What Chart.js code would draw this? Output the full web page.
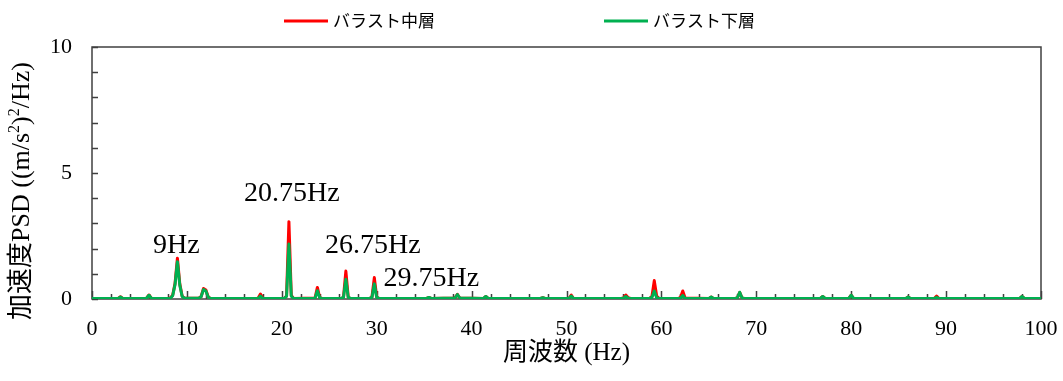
<!DOCTYPE html>
<html>
<head>
<meta charset="utf-8">
<script src="https://cdn.jsdelivr.net/npm/chart.js@4/dist/chart.umd.min.js"></script>
<style>
  html, body { margin: 0; padding: 0; background: #fff; }
  #wrap { width: 1063px; height: 381px; }
</style>
</head>
<body>
<div id="wrap"><canvas id="psd" width="1063" height="381"></canvas></div>
<script>
// Frequency bins (Hz) and PSD values ((m/s^2)^2/Hz) for the two ballast layers.
// One row per spectral peak, same layout in all three arrays.
const freqHz = [
  0, 2.75, 3, 3.25,
  5.75, 6, 6.25,
  8, 8.25, 8.5, 8.75, 9, 9.25, 9.5, 9.75,
  11.25, 11.5, 11.75, 12, 12.25, 12.5,
  17.5, 17.75, 18,
  20.25, 20.5, 20.75, 21, 21.25,
  23.5, 23.75, 24, 24.25,
  26.25, 26.5, 26.75, 27, 27.25,
  29.25, 29.5, 29.75, 30, 30.25,
  35.25, 35.5, 35.75,
  38.25, 38.5, 38.75,
  41.25, 41.5, 41.75,
  47.25, 47.5, 47.75,
  50.25, 50.5, 50.75,
  55.75, 56, 56.25, 56.5, 56.75,
  58.75, 59, 59.25, 59.5, 59.75,
  61.75, 62, 62.25, 62.5,
  65, 65.25, 65.5,
  67.75, 68, 68.25, 68.5, 68.75,
  76.75, 77, 77.25,
  79.75, 80, 80.25,
  85.75, 86, 86.25,
  88.75, 89, 89.25,
  97.75, 98, 98.25, 100
];
const midLayerPSD = [
  0.02, 0.02, 0.09, 0.02,
  0.03, 0.16, 0.03,
  0.02, 0.04, 0.15, 0.62, 1.62, 0.60, 0.12, 0.03,
  0.03, 0.10, 0.42, 0.36, 0.08, 0.02,
  0.03, 0.20, 0.03,
  0.02, 0.12, 3.07, 0.14, 0.02,
  0.04, 0.46, 0.05, 0.02,
  0.02, 0.07, 1.11, 0.07, 0.02,
  0.02, 0.08, 0.85, 0.08, 0.02,
  0.02, 0.06, 0.02,
  0.04, 0.19, 0.04,
  0.02, 0.10, 0.02,
  0.02, 0.05, 0.02,
  0.02, 0.16, 0.02,
  0.02, 0.04, 0.16, 0.05, 0.02,
  0.02, 0.10, 0.73, 0.12, 0.03,
  0.02, 0.05, 0.32, 0.04,
  0.02, 0.08, 0.02,
  0.02, 0.04, 0.26, 0.04, 0.02,
  0.02, 0.10, 0.02,
  0.02, 0.15, 0.02,
  0.02, 0.08, 0.02,
  0.02, 0.12, 0.02,
  0.02, 0.10, 0.02, 0.02
];
const lowLayerPSD = [
  0.02, 0.02, 0.08, 0.02,
  0.03, 0.15, 0.03,
  0.02, 0.03, 0.13, 0.57, 1.48, 0.55, 0.10, 0.03,
  0.03, 0.09, 0.38, 0.32, 0.07, 0.02,
  0.02, 0.12, 0.02,
  0.02, 0.10, 2.18, 0.11, 0.02,
  0.03, 0.33, 0.04, 0.02,
  0.02, 0.06, 0.78, 0.06, 0.02,
  0.02, 0.06, 0.60, 0.06, 0.02,
  0.02, 0.06, 0.02,
  0.04, 0.18, 0.04,
  0.02, 0.10, 0.02,
  0.02, 0.05, 0.02,
  0.02, 0.12, 0.02,
  0.02, 0.03, 0.10, 0.03, 0.02,
  0.02, 0.06, 0.32, 0.05, 0.02,
  0.02, 0.03, 0.14, 0.02,
  0.02, 0.08, 0.02,
  0.02, 0.04, 0.27, 0.04, 0.02,
  0.02, 0.10, 0.02,
  0.02, 0.15, 0.02,
  0.02, 0.08, 0.02,
  0.02, 0.07, 0.02,
  0.02, 0.10, 0.02, 0.02
];
const seriesNames = ['バラスト中層', 'バラスト下層'];
const xTickLabels = [0, 10, 20, 30, 40, 50, 60, 70, 80, 90, 100];
const yTickLabels = [0, 5, 10];
const peakFreqs = [9, 20.75, 26.75, 29.75];
const peakTexts = ['9Hz', '20.75Hz', '26.75Hz', '29.75Hz'];

// Label placement (pixel offsets from the peak top) for each peak note
const peakOffsets = [[-1, -5], [3, -21], [27, -18], [57, 8]];

const SERIF = '"Liberation Serif", "Noto Sans CJK JP", serif';
const CJK = '"Noto Sans CJK JP", sans-serif';
const toPoints = ys => freqHz.map((f, i) => ({ x: f, y: ys[i] }));

const framePlugin = {
  id: 'frameAndNotes',
  beforeDatasetsDraw(chart) {
    const { ctx, chartArea: a, scales: { x, y } } = chart;
    ctx.save();
    ctx.strokeStyle = '#404040';
    ctx.lineWidth = 1.5;
    ctx.strokeRect(a.left, a.top, a.right - a.left, a.bottom - a.top);
    ctx.beginPath();
    x.ticks.forEach(t => {
      const px = Math.round(x.getPixelForValue(t.value)) + 0.5;
      const len = xTickLabels.includes(t.value) ? 8 : 5;
      ctx.moveTo(px, a.bottom);
      ctx.lineTo(px, a.bottom - len);
    });
    y.ticks.forEach(t => {
      const py = Math.round(y.getPixelForValue(t.value)) + 0.5;
      ctx.moveTo(a.left, py);
      ctx.lineTo(a.left + 6, py);
    });
    ctx.stroke();
    ctx.restore();
  },
  afterDraw(chart) {
    const { ctx, scales: { x, y } } = chart;
    ctx.save();
    // peak frequency notes
    ctx.fillStyle = '#000';
    ctx.font = '28px ' + SERIF;
    ctx.textAlign = 'center';
    ctx.textBaseline = 'alphabetic';
    peakFreqs.forEach((f, i) => {
      const v = midLayerPSD[freqHz.indexOf(f)];
      const px = x.getPixelForValue(f) + peakOffsets[i][0];
      const py = y.getPixelForValue(v) + peakOffsets[i][1];
      ctx.fillText(peakTexts[i], px, py);
    });

    // legend
    const legendX = [284, 604];
    chart.data.datasets.forEach((ds, i) => {
      const lx = legendX[i];
      ctx.strokeStyle = ds.borderColor;
      ctx.lineWidth = 3;
      ctx.beginPath();
      ctx.moveTo(lx, 21);
      ctx.lineTo(lx + 44, 21);
      ctx.stroke();
      ctx.fillStyle = '#000';
      ctx.font = '17px ' + CJK;
      ctx.textAlign = 'left';
      ctx.textBaseline = 'middle';
      ctx.fillText(ds.label, lx + 49, 21);
    });

    // y-axis title with superscripts
    const parts = [
      { t: '加速度PSD ((m/s', sup: false },
      { t: '2', sup: true },
      { t: ')', sup: false },
      { t: '2', sup: true },
      { t: '/Hz)', sup: false }
    ];
    const mainFont = '26px ' + SERIF;
    const supFont = '16px ' + SERIF;
    let total = 0;
    parts.forEach(p => { ctx.font = p.sup ? supFont : mainFont; p.w = ctx.measureText(p.t).width; total += p.w; });
    ctx.translate(22, 191);
    ctx.rotate(-Math.PI / 2);
    ctx.textAlign = 'left';
    ctx.textBaseline = 'middle';
    let cx = -total / 2;
    parts.forEach(p => {
      ctx.font = p.sup ? supFont : mainFont;
      ctx.fillText(p.t, cx, p.sup ? -7 : 0);
      cx += p.w;
    });
    ctx.restore();
  }
};

new Chart(document.getElementById('psd').getContext('2d'), {
  type: 'line',
  data: {
    datasets: [
      { label: seriesNames[0], data: toPoints(midLayerPSD), borderColor: '#FF0000', backgroundColor: '#FF0000',
        borderWidth: 3, borderJoinStyle: 'round', borderCapStyle: 'round',
        pointRadius: 0, tension: 0, order: 1 },
      { label: seriesNames[1], data: toPoints(lowLayerPSD), borderColor: '#00B050', backgroundColor: '#00B050',
        borderWidth: 3, borderJoinStyle: 'round', borderCapStyle: 'round',
        pointRadius: 0, tension: 0, order: 0 }
    ]
  },
  options: {
    responsive: false,
    animation: false,
    devicePixelRatio: 1,
    layout: { padding: { top: 47, right: 22, left: 0, bottom: 0 } },
    plugins: { legend: { display: false }, tooltip: { enabled: false } },
    scales: {
      x: {
        type: 'linear', min: 0, max: 100,
        afterFit(s) { s.height = 82; s.paddingLeft = 0; s.paddingRight = 0; },
        ticks: {
          stepSize: 2, autoSkip: false, maxRotation: 0, padding: 17,
          color: '#000', font: { family: SERIF, size: 22 },
          callback: v => xTickLabels.includes(v) ? String(v) : ''
        },
        grid: { display: false, drawTicks: false },
        border: { display: false },
        title: { display: true, text: '周波数 (Hz)', color: '#000',
                 font: { family: SERIF, size: 25 }, padding: { top: 0, bottom: 13 } }
      },
      y: {
        min: 0, max: 10,
        afterFit(s) { s.width = 92; s.paddingTop = 0; s.paddingBottom = 0; },
        ticks: {
          stepSize: 1, autoSkip: false, padding: 20,
          color: '#000', font: { family: SERIF, size: 22 },
          callback: v => yTickLabels.includes(v) ? String(v) : ''
        },
        grid: { display: false, drawTicks: false },
        border: { display: false }
      }
    }
  },
  plugins: [framePlugin]
});
</script>
</body>
</html>
